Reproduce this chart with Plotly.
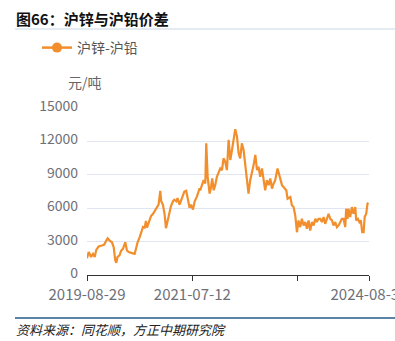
import plotly.graph_objects as go

# 沪锌-沪铅 价差（元/吨）
dates = [
    "2019-08-29", "2019-09-09", "2019-09-15", "2019-09-24", "2019-10-07", "2019-10-18",
    "2019-10-28", "2019-11-12", "2019-12-04", "2019-12-19", "2020-01-01", "2020-01-10",
    "2020-01-23", "2020-02-07", "2020-02-18", "2020-02-28", "2020-03-06", "2020-03-14",
    "2020-03-27", "2020-04-05", "2020-04-18", "2020-05-03", "2020-05-14", "2020-05-25",
    "2020-06-16", "2020-07-03", "2020-07-14", "2020-07-22", "2020-08-04", "2020-08-15",
    "2020-08-26", "2020-09-06", "2020-09-14", "2020-09-21", "2020-10-01", "2020-10-17",
    "2020-10-30", "2020-11-14", "2020-11-25", "2020-12-05", "2020-12-16", "2020-12-22",
    "2021-01-02", "2021-01-13", "2021-01-22", "2021-02-01", "2021-02-14", "2021-02-23",
    "2021-03-08", "2021-03-17", "2021-03-30", "2021-04-07", "2021-04-20", "2021-05-06",
    "2021-05-21", "2021-06-02", "2021-06-11", "2021-06-24", "2021-07-03", "2021-07-16",
    "2021-07-27", "2021-08-11", "2021-08-28", "2021-09-01", "2021-09-12", "2021-09-23",
    "2021-10-04", "2021-10-10", "2021-10-19", "2021-11-01", "2021-11-10", "2021-11-18",
    "2021-11-27", "2021-12-07", "2021-12-18", "2021-12-29", "2022-01-09", "2022-01-20",
    "2022-01-30", "2022-02-10", "2022-02-21", "2022-03-04", "2022-03-15", "2022-03-26",
    "2022-04-05", "2022-04-16", "2022-04-27", "2022-05-08", "2022-05-18", "2022-05-29",
    "2022-06-09", "2022-06-20", "2022-07-01", "2022-07-11", "2022-07-22", "2022-08-02",
    "2022-08-13", "2022-08-24", "2022-09-04", "2022-09-14", "2022-09-25", "2022-10-06",
    "2022-10-17", "2022-10-27", "2022-11-07", "2022-11-18", "2022-11-29", "2022-12-10",
    "2022-12-21", "2022-12-31", "2023-01-15", "2023-01-28", "2023-02-13", "2023-02-23",
    "2023-03-13", "2023-03-21", "2023-04-08", "2023-04-18", "2023-04-29", "2023-05-10",
    "2023-05-21", "2023-05-31", "2023-06-11", "2023-06-22", "2023-07-03", "2023-07-14",
    "2023-07-25", "2023-08-04", "2023-08-15", "2023-08-26", "2023-09-06", "2023-09-17",
    "2023-09-27", "2023-10-08", "2023-10-19", "2023-10-30", "2023-11-10", "2023-11-20",
    "2023-12-01", "2023-12-12", "2023-12-23", "2024-01-03", "2024-01-13", "2024-01-24",
    "2024-02-04", "2024-02-15", "2024-02-26", "2024-03-07", "2024-03-18", "2024-03-29",
    "2024-04-04", "2024-04-13", "2024-04-19", "2024-04-30", "2024-05-11", "2024-05-22",
    "2024-06-02", "2024-06-08", "2024-06-19", "2024-06-29", "2024-07-08", "2024-07-17",
    "2024-07-26", "2024-08-02", "2024-08-12", "2024-08-20", "2024-08-26",
]
spread = [
    1500, 2060, 1900, 1620, 1900, 1620,
    2260, 2560, 2650, 2730, 3090, 3290,
    3090, 2940, 2500, 1320, 1090, 1620,
    1760, 2150, 2350, 2940, 2200, 2060,
    1970, 1900, 2500, 2940, 3380, 3970,
    4320, 4260, 4850, 4260, 4700, 5290,
    5500, 5880, 6030, 6320, 7550, 6620,
    6320, 5440, 4200, 4850, 5730, 6170,
    6620, 6760, 6620, 6910, 6320, 6910,
    7500, 7560, 6910, 6030, 6320, 5880,
    6620, 7060, 7790, 7610, 8070, 8520,
    8220, 11830, 8820, 7310, 7910, 8670,
    7610, 8070, 8820, 9270, 9570, 9420,
    10480, 10180, 9420, 12140, 10330, 11230,
    12290, 13100, 12440, 10930, 10480, 11830,
    11230, 9720, 8520, 7310, 8520, 9120,
    9870, 10780, 9420, 9720, 8820, 9570,
    8520, 7610, 8520, 8070, 8670, 7760,
    8220, 8520, 9570, 8820, 8070, 7910,
    7610, 6860, 7010, 6260, 6100, 5350,
    3840, 4900, 4300, 5050, 4450, 4750,
    4150, 4900, 4000, 4750, 4450, 5050,
    4750, 5050, 5050, 4750, 5200, 4600,
    5050, 5500, 5050, 4900, 4450, 4750,
    4300, 4450, 4750, 5050, 5050, 4300,
    5950, 5050, 5950, 5200, 6100, 5500,
    6100, 4900, 5050, 4750, 4900, 3840,
    3840, 5200, 5500, 6400, 6500,
]

x_tickvals = ["2019-08-29", "2021-07-12", "2023-05-22", "2024-08-30"]
x_ticktext = ["2019-08-29", "2021-07-12", "", "2024-08-30"]
y_tickvals = [0, 3000, 6000, 9000, 12000, 15000]
y_ticktext = [str(v) for v in y_tickvals]

LINE = "#F28E2B"
FONT = "Noto Sans CJK SC"
GRAY = "#6E7079"

W, H = 395, 341
pl, pr, pt, pb = 87, 26, 108, 66
pw, ph = W - pl - pr, H - pt - pb


def px_x(x):
    return (x - pl) / pw


def px_y(y):
    return (H - pb - y) / ph


fig = go.Figure()
fig.add_trace(go.Scatter(
    x=dates, y=spread, mode="lines", name="沪锌-沪铅",
    line=dict(color=LINE, width=2.2), showlegend=False,
))
# legend entry drawn with line + dot symbol
fig.add_trace(go.Scatter(
    x=[None], y=[None], mode="lines+markers", name="沪锌-沪铅",
    line=dict(color=LINE, width=2.5), marker=dict(color=LINE, size=10),
))

fig.update_layout(
    width=W, height=H,
    margin=dict(l=pl, r=pr, t=pt, b=pb, autoexpand=False),
    paper_bgcolor="white", plot_bgcolor="white",
    font=dict(family=FONT, color=GRAY, size=14),
    showlegend=True,
    legend=dict(
        x=px_x(37), y=px_y(32),
        xanchor="left", yanchor="top", bgcolor="rgba(0,0,0,0)",
        font=dict(size=14, color="#555"), itemwidth=30,
    ),
    xaxis=dict(
        type="date", range=["2019-08-29", "2024-08-30"],
        tickvals=x_tickvals, ticktext=x_ticktext, tickangle=0,
        ticklabeloverflow="allow",
        showgrid=False, showline=True, linecolor="#333", linewidth=1,
        ticks="outside", ticklen=5, tickcolor="#333", ticklabelstandoff=1,
        tickfont=dict(size=15, color=GRAY), zeroline=False, automargin=False,
    ),
    yaxis=dict(
        range=[0, 15000], tickvals=y_tickvals, ticktext=y_ticktext,
        showgrid=True, gridcolor="#E0E6F1", gridwidth=1,
        showline=False, zeroline=False, ticks="", automargin=False,
        ticklabelstandoff=8, ticklabelshift=-2,
        tickfont=dict(size=14, color=GRAY),
    ),
    annotations=[
        dict(text="<b>图66：沪锌与沪铅价差</b>", xref="paper", yref="paper",
             x=px_x(14), y=px_y(19), showarrow=False, xanchor="left", yanchor="middle",
             font=dict(size=15, color="#111", family=FONT)),
        dict(text="元/吨", xref="paper", yref="paper", x=px_x(85), y=px_y(82),
             showarrow=False, xanchor="center", yanchor="middle",
             font=dict(size=14, color="#666", family=FONT)),
        dict(text="<i>资料来源：同花顺，方正中期研究院</i>", xref="paper", yref="paper",
             x=px_x(14), y=px_y(329), showarrow=False, xanchor="left", yanchor="middle",
             font=dict(size=13, color="#222", family=FONT)),
    ],
    shapes=[
        dict(type="line", xref="paper", yref="paper",
             x0=px_x(15), x1=px_x(395), y0=px_y(29), y1=px_y(29),
             line=dict(color="#C9D9E6", width=1)),
        dict(type="line", xref="paper", yref="paper",
             x0=px_x(15), x1=px_x(395), y0=px_y(318), y1=px_y(318),
             line=dict(color="#5B83A6", width=2)),
    ],
)

fig.write_html("out.html")
